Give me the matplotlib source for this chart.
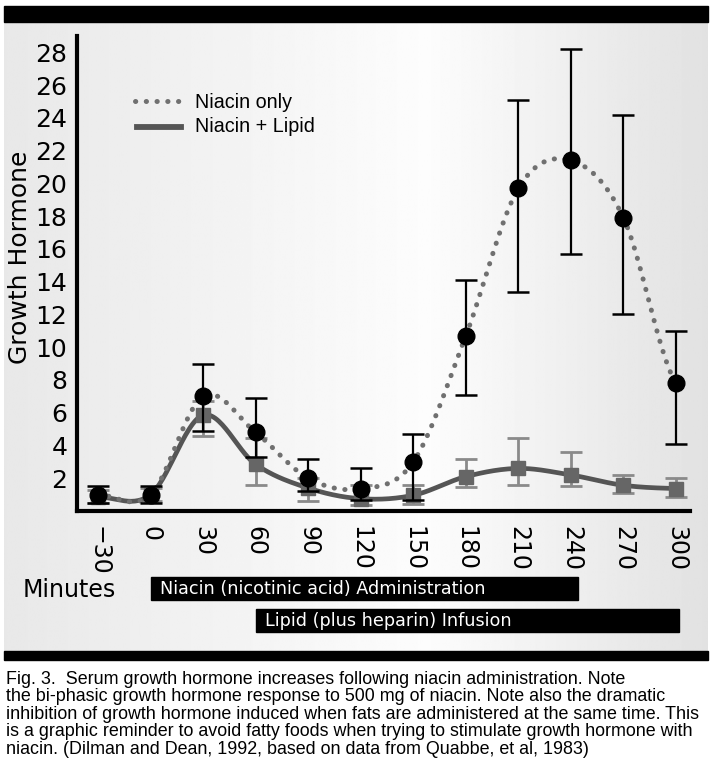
import numpy as np
import matplotlib
matplotlib.use("Agg")
import matplotlib.pyplot as plt
from matplotlib.patches import Rectangle
import matplotlib.transforms as mtransforms

# ---------------- data ----------------
minutes = [-30, 0, 30, 60, 90, 120, 150, 180, 210, 240, 270, 300]
tick_labels = ["\u221230", "0", "30", "60", "90", "120", "150", "180", "210", "240", "270", "300"]

niacin_only = [1.0, 1.0, 7.0, 4.8, 2.0, 1.35, 3.0, 10.7, 19.7, 21.4, 17.9, 7.8]
niacin_only_hi = [1.5, 1.5, 9.0, 6.9, 3.2, 2.6, 4.7, 14.1, 25.1, 28.2, 24.2, 11.0]
niacin_only_lo = [0.5, 0.5, 4.9, 3.3, 1.2, 0.7, 0.7, 7.1, 13.4, 15.7, 12.0, 4.1]

niacin_lipid = [0.85, 1.0, 5.85, 2.85, 1.4, 0.75, 0.96, 2.1, 2.6, 2.2, 1.57, 1.37]
niacin_lipid_hi = [1.3, 1.4, 6.7, 4.45, 2.0, 1.6, 1.6, 3.2, 4.45, 3.6, 2.2, 2.0]
niacin_lipid_lo = [0.5, 0.6, 4.6, 1.6, 0.6, 0.35, 0.43, 1.45, 1.6, 1.5, 1.08, 0.86]

y_ticks = [2, 4, 6, 8, 10, 12, 14, 16, 18, 20, 22, 24, 26, 28]

legend_labels = ["Niacin only", "Niacin + Lipid"]
bar_labels = ["Niacin (nicotinic acid) Administration", "Lipid (plus heparin) Infusion"]
bar_spans = [(0, 244), (60, 302)]

caption = ("Fig. 3.  Serum growth hormone increases following niacin administration. Note\n"
           "the bi-phasic growth hormone response to 500 mg of niacin. Note also the dramatic\n"
           "inhibition of growth hormone induced when fats are administered at the same time. This\n"
           "is a graphic reminder to avoid fatty foods when trying to stimulate growth hormone with\n"
           "niacin. (Dilman and Dean, 1992, based on data from Quabbe, et al, 1983)")


def catmull_rom(x, y, n=30):
    x = np.asarray(x, float)
    y = np.asarray(y, float)
    px = np.concatenate([[2 * x[0] - x[1]], x, [2 * x[-1] - x[-2]]])
    py = np.concatenate([[y[0]], y, [y[-1]]])
    xs, ys = [], []
    t = np.linspace(0, 1, n, endpoint=False)
    for i in range(1, len(px) - 2):
        p0, p1, p2, p3 = py[i - 1], py[i], py[i + 1], py[i + 2]
        x0, x1, x2, x3 = px[i - 1], px[i], px[i + 1], px[i + 2]
        f = lambda a0, a1, a2, a3: 0.5 * ((2 * a1) + (-a0 + a2) * t +
                                          (2 * a0 - 5 * a1 + 4 * a2 - a3) * t ** 2 +
                                          (-a0 + 3 * a1 - 3 * a2 + a3) * t ** 3)
        xs.append(f(x0, x1, x2, x3))
        ys.append(f(p0, p1, p2, p3))
    xs.append([x[-1]])
    ys.append([y[-1]])
    return np.concatenate(xs), np.concatenate(ys)


W, H = 715, 780
fig = plt.figure(figsize=(W / 100, H / 100), dpi=100)
fig.patch.set_facecolor("white")

# background panel with horizontal gradient
bg = fig.add_axes([4 / W, 1 - 652 / H, 704 / W, 630 / H])
bg.set_axis_off()
xs = np.linspace(0, 1, 400)
vals = np.interp(xs, [0, 0.6, 1.0], [0.91, 0.99, 0.885])
bg.imshow(np.tile(vals, (2, 1)), cmap="gray", vmin=0, vmax=1, aspect="auto",
          extent=[0, 1, 0, 1], interpolation="bilinear")
bg.set_xlim(0, 1)
bg.set_ylim(0, 1)

# black bars
fig.patches.append(Rectangle((4 / W, 1 - 22 / H), 704 / W, 16 / H, transform=fig.transFigure,
                             color="black", zorder=5))
fig.patches.append(Rectangle((4 / W, 1 - 660 / H), 704 / W, 9 / H, transform=fig.transFigure,
                             color="black", zorder=5))

ax = fig.add_axes([77 / W, 1 - 511 / H, 613 / W, 475 / H])
ax.patch.set_alpha(0)
ax.set_xlim(-42, 308)
ax.set_ylim(0, 29)
for s in ["top", "right"]:
    ax.spines[s].set_visible(False)
for s in ["left", "bottom"]:
    ax.spines[s].set_linewidth(3)
    ax.spines[s].set_color("black")

ax.set_xticks(minutes)
ax.set_xticklabels(tick_labels, rotation=270, fontsize=17, family="DejaVu Sans")
ax.set_yticks(y_ticks)
ax.set_yticklabels([str(v) for v in y_ticks], fontsize=18, family="DejaVu Sans")
ax.tick_params(axis="both", length=0)
ax.tick_params(axis="x", pad=11)
ax.tick_params(axis="y", pad=7)
ax.set_ylabel("Growth Hormone", fontsize=18, family="DejaVu Sans")
ax.yaxis.set_label_coords(-0.073, 0.535)

# Niacin + Lipid (gray)
nl = np.array(niacin_lipid)
ax.errorbar(minutes, nl, yerr=[nl - np.array(niacin_lipid_lo), np.array(niacin_lipid_hi) - nl],
            fmt="none", ecolor="#8a8a8a", elinewidth=2, capsize=8, capthick=2, zorder=2)
cx, cy = catmull_rom(minutes, niacin_lipid)
ax.plot(cx, cy, color="#555555", lw=3.4, solid_capstyle="round", zorder=3, label=legend_labels[1])
ax.plot(minutes, niacin_lipid, "s", color="#666666", ms=10, zorder=3)

# Niacin only (black points, gray dotted curve)
no = np.array(niacin_only)
dx, dy = catmull_rom(minutes, niacin_only)
ax.plot(dx, dy, color="#707070", lw=3.6, linestyle=(0, (0.05, 2.1)), dash_capstyle="round",
        zorder=4, label=legend_labels[0])
ax.errorbar(minutes, no, yerr=[no - np.array(niacin_only_lo), np.array(niacin_only_hi) - no],
            fmt="none", ecolor="black", elinewidth=1.6, capsize=8, capthick=1.8, zorder=5)
ax.plot(minutes, niacin_only, "o", color="black", ms=12, zorder=6)

# legend (manual)
fig.lines.append(plt.Line2D([135 / W, 182 / W], [1 - 101 / H] * 2, transform=fig.transFigure,
                            color="#707070", lw=3.6, linestyle=(0, (0.05, 2.1)),
                            dash_capstyle="round"))
fig.lines.append(plt.Line2D([137 / W, 181 / W], [1 - 127 / H] * 2, transform=fig.transFigure,
                            color="#555555", lw=4.2))
fig.text(195 / W, 1 - 102 / H, legend_labels[0], fontsize=14.2, family="Liberation Sans",
         va="center", ha="left")
fig.text(195 / W, 1 - 127 / H, legend_labels[1], fontsize=14.2, family="Liberation Sans",
         va="center", ha="left")

# Minutes label and black boxes
fig.text(23 / W, 1 - 590 / H, "Minutes", fontsize=17, family="DejaVu Sans", va="center", ha="left")
trans = mtransforms.blended_transform_factory(ax.transData, fig.transFigure)
box_y = [(577, 600), (609, 632)]
for (x0, x1), (ytop, ybot), lab in zip(bar_spans, box_y, bar_labels):
    ax.add_patch(Rectangle((x0, 1 - ybot / H), x1 - x0, (ybot - ytop) / H, transform=trans,
                           color="black", clip_on=False, zorder=10))
    ax.text(x0 + 5.5, 1 - (ytop + ybot) / 2 / H, lab, transform=trans, color="white",
            fontsize=12.7, family="DejaVu Sans", va="center", ha="left", zorder=11, clip_on=False)

fig.text(6 / W, 1 - 671 / H, caption, fontsize=12.9, family="Liberation Sans", va="top",
         ha="left", linespacing=1.03)

fig.savefig("out.png", dpi=100)
